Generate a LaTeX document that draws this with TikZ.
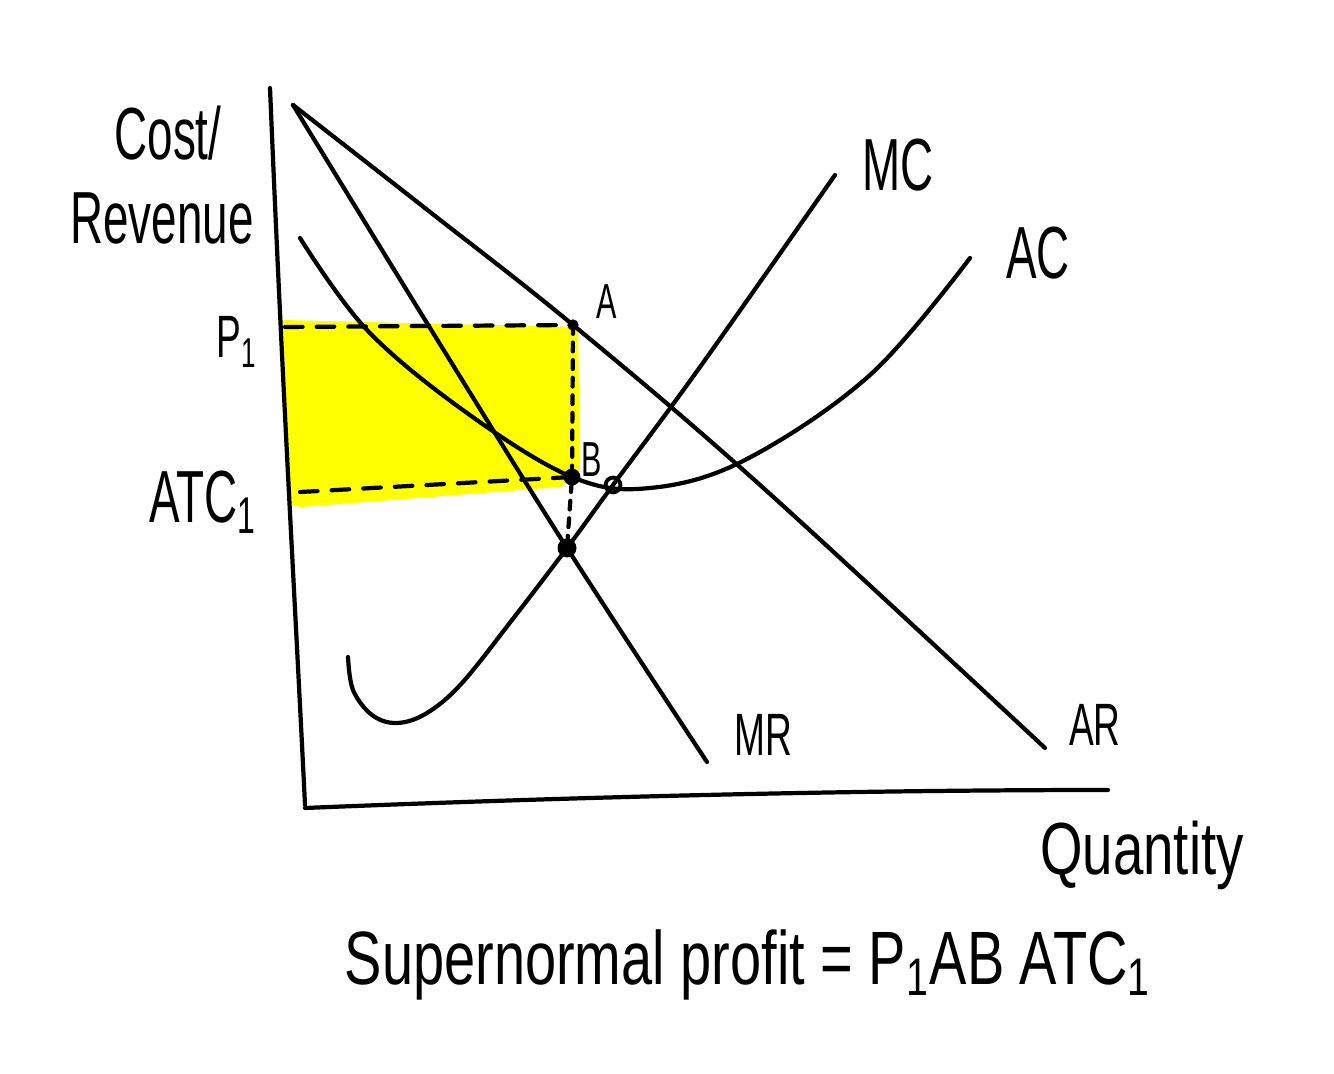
\documentclass[tikz,border=0pt]{standalone}
\usepackage{fontspec}
\setmainfont{Liberation Sans}[FakeStretch=0.62]
\newfontfamily\widehand{Liberation Sans}[FakeStretch=0.74]
\usepackage{tikz}

\begin{document}
\begin{tikzpicture}[x=0.01cm, y=-0.01cm, line width=1.2pt, line cap=round, line join=round]

% Colours
\definecolor{colProfit}{HTML}{FFFF00}
\definecolor{colInk}{HTML}{000000}

% Label fonts
\def\bigfont{\fontsize{21}{24}\selectfont}
\def\midfont{\fontsize{17}{20}\selectfont}
\def\smallfont{\fontsize{14}{16}\selectfont}

\useasboundingbox (0,0) rectangle (1334,1074);

% Points
\coordinate (A) at (573,325);
\coordinate (B) at (572,477);
\coordinate (P1) at (285,327);
\coordinate (ATC1) at (300,492);
\coordinate (ACMC) at (613,485);
\coordinate (MCMR) at (567,548);

% Supernormal profit area
\fill[colProfit] (283,320) -- (578,327) -- (580,470) -- (560,487) -- (300,507) -- (290,505) -- cycle;

% Axes
\draw[colInk] (270,88) .. controls (283,400) and (295,600) .. (305,805);
\draw[colInk] (305,808) .. controls (500,800) and (800,790) .. (1108,790);

% AR
\draw[colInk] plot[smooth, tension=0.6] coordinates {(293,105) (430,212) (573,325) (760,485) (1045,748)};

% MR
\draw[colInk] plot[smooth, tension=0.6] coordinates {(293,105) (430,328) (567,548) (707,762)};

% AC
\draw[colInk] plot[smooth, tension=0.6] coordinates {(300,238) (367,330) (467,413) (572,477) (650,488) (745,460) (870,375) (970,258)};

% MC
\draw[colInk] plot[smooth, tension=0.6] coordinates {(348,657) (353,690) (372,715) (397,723) (427,713) (462,683) (512,620) (567,548) (613,485) (700,367) (835,175)};

% Dashed guides
\draw[colInk, dash pattern=on 5pt off 4pt] (P1) -- (A);
\draw[colInk, dash pattern=on 5pt off 4pt] (ATC1) -- (B);
\draw[colInk, dash pattern=on 2.5pt off 2.5pt] (A) -- (B) -- (MCMR);

% Dots
\fill[colInk] (A) circle (1.6pt);
\fill[colInk] (B) circle (2.4pt);
\fill[colInk] (MCMR) circle (2.7pt);
\draw[colInk, line width=1.1pt] (ACMC) circle (2.1pt);

% Labels
\node[font=\bigfont] (lblCost) at (168,133) {Cost/};
\node[font=\bigfont] (lblRev) at (162,218) {Revenue};
\node[font=\midfont] (lblP) at (237,342) {P\textsubscript{1}};
\node[font=\bigfont] (lblATC) at (203,502) {ATC\textsubscript{1}};
\node[font=\smallfont] (lblA) at (607,302) {A};
\node[font=\smallfont] (lblB) at (592,460) {B};
\node[font=\bigfont] (lblMC) at (898,165) {MC};
\node[font=\bigfont] (lblAC) at (1038,253) {AC};
\node[font=\midfont] (lblMR) at (763,735) {MR};
\node[font=\midfont] (lblAR) at (1095,725) {AR};
\node[font=\widehand\bigfont] (lblQ) at (1142,855) {Quantity};
\node[font=\widehand\fontsize{21.5}{25}\selectfont] (lblProfit) at (748,965) {Supernormal profit = P\textsubscript{1}AB ATC\textsubscript{1}};

\end{tikzpicture}
\end{document}
